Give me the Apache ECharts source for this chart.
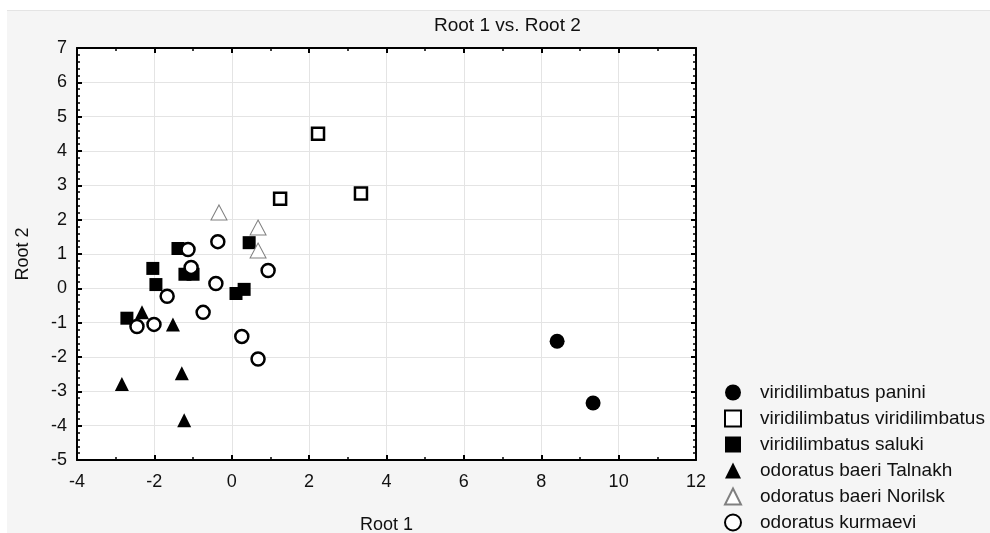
<!DOCTYPE html>
<html>
<head>
<meta charset="utf-8">
<script src="https://cdn.jsdelivr.net/npm/echarts@6/dist/echarts.min.js"></script>
<style>
html,body{margin:0;padding:0;background:#ffffff;width:990px;height:533px;overflow:hidden;}
#chart{position:absolute;left:7px;top:10px;width:983px;height:523px;background:#f5f5f5;border-top:1px solid #e4e4e4;box-sizing:border-box;}
</style>
</head>
<body>
<div id="chart"></div>
<script>
// ---- data ----
const seriesNames = ['viridilimbatus panini','viridilimbatus viridilimbatus','viridilimbatus saluki','odoratus baeri Talnakh','odoratus baeri Norilsk','odoratus kurmaevi'];
const panini = [[8.41,-1.54],[9.34,-3.34]];
const viridilimbatus = [[2.23,4.50],[1.25,2.61],[3.34,2.76]];
const saluki = [[-2.71,-0.87],[-2.04,0.58],[-1.96,0.11],[-1.39,1.16],[-1.21,0.41],[-1.00,0.41],[0.11,-0.15],[0.32,-0.03],[0.45,1.33]];
const talnakh = [[-2.84,-2.79],[-2.32,-0.70],[-1.52,-1.05],[-1.29,-2.47],[-1.23,-3.84]];
const norilsk = [[-0.33,2.21],[0.68,1.77],[0.68,1.10]];
const kurmaevi = [[-1.13,1.13],[-1.05,0.61],[-0.36,1.36],[-0.41,0.14],[0.94,0.52],[-1.67,-0.23],[-0.74,-0.70],[-2.01,-1.05],[-2.45,-1.11],[0.26,-1.40],[0.68,-2.06]];
const xRange = {min:-4, max:12, interval:2};
const yRange = {min:-5, max:7, interval:1};
const titleText = 'Root 1 vs. Root 2';
const xName = 'Root 1';
const yName = 'Root 2';

const FONT = '"Liberation Sans", Arial, sans-serif';
const chart = echarts.init(document.getElementById('chart'), null, {renderer:'canvas'});

const axisLineStyle = {show:true, onZero:false, lineStyle:{color:'#000', width:2}};
const axisTickStyle = {show:true, inside:true, length:5, lineStyle:{color:'#000', width:2}};
const minorTickStyle = (n)=>({show:true, splitNumber:n, length:3, lineStyle:{color:'#000', width:1.5}});
const labelStyle = {color:'#111', fontFamily:FONT, fontSize:18};

function mkAxisX(pos, primary){
  return {
    type:'value', position:pos, min:xRange.min, max:xRange.max, interval:xRange.interval,
    name: primary ? xName : '', nameLocation:'middle', nameGap:56,
    nameTextStyle:{color:'#111', fontFamily:FONT, fontSize:18},
    axisLine:axisLineStyle, axisTick:axisTickStyle, minorTick:minorTickStyle(2),
    axisLabel: primary ? Object.assign({margin:13}, labelStyle) : {show:false},
    splitLine:{show:primary, lineStyle:{color:'#e4e4e4', width:1}},
    minorSplitLine:{show:false}
  };
}
function mkAxisY(pos, primary){
  return {
    type:'value', position:pos, min:yRange.min, max:yRange.max, interval:yRange.interval,
    name: primary ? yName : '', nameLocation:'middle', nameGap:45, nameRotate:90,
    nameTextStyle:{color:'#111', fontFamily:FONT, fontSize:18},
    axisLine:axisLineStyle, axisTick:axisTickStyle, minorTick:minorTickStyle(5),
    axisLabel: primary ? Object.assign({margin:10}, labelStyle) : {show:false},
    splitLine:{show:primary, lineStyle:{color:'#e4e4e4', width:1}},
    minorSplitLine:{show:false}
  };
}

const styles = [
  {symbol:'circle', size:15, item:{color:'#000', opacity:1}},
  {symbol:'rect', size:12, item:{color:'#fff', borderColor:'#000', borderWidth:2.5, opacity:1}},
  {symbol:'rect', size:13, item:{color:'#000', opacity:1}},
  {symbol:'triangle', size:14, item:{color:'#000', opacity:1}},
  {symbol:'triangle', size:[16,15], item:{color:'#fff', borderColor:'#808080', borderWidth:1, opacity:1}},
  {symbol:'circle', size:13, item:{color:'#fff', borderColor:'#000', borderWidth:2.5, opacity:1}}
];
const datasets = [panini, viridilimbatus, saluki, talnakh, norilsk, kurmaevi];

const series = datasets.map((d,i)=>({
  name: seriesNames[i], type:'scatter', xAxisIndex:0, yAxisIndex:0,
  symbol: styles[i].symbol, symbolSize: styles[i].size,
  itemStyle: styles[i].item, data: d, z: 2 + i,
  emphasis:{disabled:true}, animation:false
}));

chart.setOption({
  backgroundColor:'#f5f5f5',
  animation:false,
  title:{text:titleText, left:422, top:0,
    textStyle:{color:'#111', fontFamily:FONT, fontSize:19, fontWeight:'normal'}},
  grid:{left:70, top:37, right:294, bottom:73, show:true, backgroundColor:'#fff', borderWidth:0,
    containLabel:false, outerBoundsMode:'none'},
  xAxis:[mkAxisX('bottom', true), mkAxisX('top', false)],
  yAxis:[mkAxisY('left', true), mkAxisY('right', false)],
  legend:{
    orient:'vertical', left:712, top:367, height:160, itemWidth:16, itemHeight:16, itemGap:7,
    textStyle:{color:'#111', fontFamily:FONT, fontSize:19, padding:[0,0,0,14]},
    data: seriesNames, selectedMode:false
  },
  series: series
});
</script>
</body>
</html>
